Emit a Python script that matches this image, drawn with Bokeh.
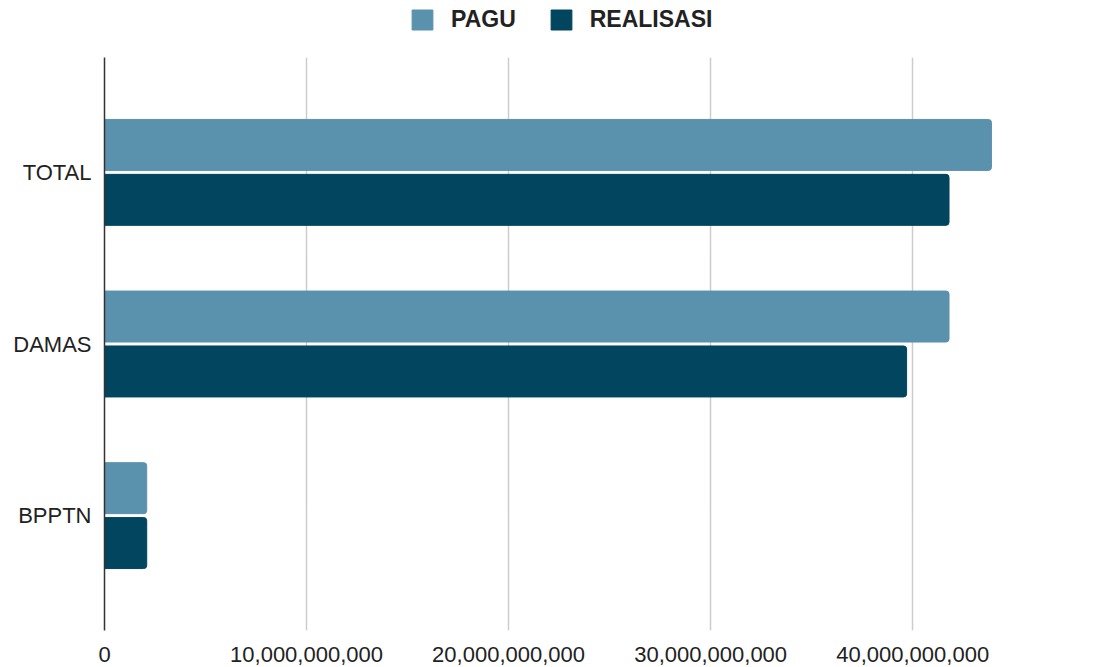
from bokeh.plotting import figure
from bokeh.layouts import column
from bokeh.models import (Range1d, FactorRange, Legend, LegendItem, FixedTicker,
                          NumeralTickFormatter, ColumnDataSource)
from bokeh.transform import dodge
from bokeh.embed import file_html
from bokeh.resources import INLINE

categories = ["BPPTN", "DAMAS", "TOTAL"]
pagu = [2.09e9, 41.8e9, 43.9e9]
realisasi = [2.09e9, 39.7e9, 41.8e9]
x_ticks = [0, 10e9, 20e9, 30e9, 40e9]
series_names = ["PAGU", "REALISASI"]

PAGU_COLOR = "#5a92ae"
REAL_COLOR = "#02455f"

src = ColumnDataSource(dict(cat=categories, pagu=pagu, realisasi=realisasi))

# ---- legend strip on top (keys only; its zero-width bars sit outside the visible range) ----
leg = figure(width=1100, height=57, output_backend="svg", toolbar_location=None,
             x_range=Range1d(0, 1), y_range=Range1d(0, 1),
             min_border_left=0, min_border_right=0, min_border_top=0, min_border_bottom=0,
             x_axis_type=None, y_axis_type=None)
leg.outline_line_color = None
leg.grid.grid_line_color = None
key_src = ColumnDataSource(dict(y=[-5], right=[-5]))
lr1 = leg.hbar(y="y", right="right", left="right", height=0.1, source=key_src, color=PAGU_COLOR)
lr2 = leg.hbar(y="y", right="right", left="right", height=0.1, source=key_src, color=REAL_COLOR)
legend = Legend(items=[LegendItem(label=series_names[0], renderers=[lr1]),
                       LegendItem(label=series_names[1], renderers=[lr2])],
                orientation="horizontal", location=(305, 24),
                label_text_font="Liberation Sans", label_text_font_style="bold",
                label_text_font_size="23px", label_text_color="#222222",
                glyph_width=26, glyph_height=25, spacing=32, label_standoff=16,
                border_line_color=None, background_fill_alpha=0, padding=0, margin=0)
leg.add_layout(legend)

# ---- main chart ----
p = figure(width=1100, height=610, output_backend="svg", toolbar_location=None,
           y_range=FactorRange(factors=categories, range_padding=0.113),
           x_range=Range1d(0, 49e9),
           min_border_left=104, min_border_right=6, min_border_top=0, min_border_bottom=37)
p.outline_line_color = None

r1 = p.hbar(y=dodge("cat", 0.16, range=p.y_range), right="pagu", left=0, height=0.297,
            source=src, color=PAGU_COLOR, border_radius=(0, 3, 3, 0))
r2 = p.hbar(y=dodge("cat", -0.16, range=p.y_range), right="realisasi", left=0, height=0.297,
            source=src, color=REAL_COLOR, border_radius=(0, 3, 3, 0))

p.xaxis.ticker = FixedTicker(ticks=x_ticks)
p.xaxis.formatter = NumeralTickFormatter(format="0,0")
p.xaxis.axis_line_color = None
p.xaxis.major_tick_line_color = None
p.xaxis.minor_tick_line_color = None
p.xaxis.major_label_text_font = "Liberation Sans"
p.xaxis.major_label_text_font_size = "22px"
p.xaxis.major_label_text_color = "#222222"
p.xaxis.major_label_standoff = 10

p.yaxis.axis_line_color = "#333333"
p.yaxis.axis_line_width = 1.5
p.yaxis.major_tick_line_color = None
p.yaxis.minor_tick_line_color = None
p.yaxis.major_label_text_font = "Liberation Sans"
p.yaxis.major_label_text_font_size = "22px"
p.yaxis.major_label_text_color = "#222222"
p.yaxis.major_label_standoff = 7

p.xgrid.grid_line_color = "#cccccc"
p.xgrid.grid_line_width = 1.5
p.ygrid.grid_line_color = None

layout = column(leg, p, spacing=0)
open("out.html", "w").write(file_html(layout, INLINE))
